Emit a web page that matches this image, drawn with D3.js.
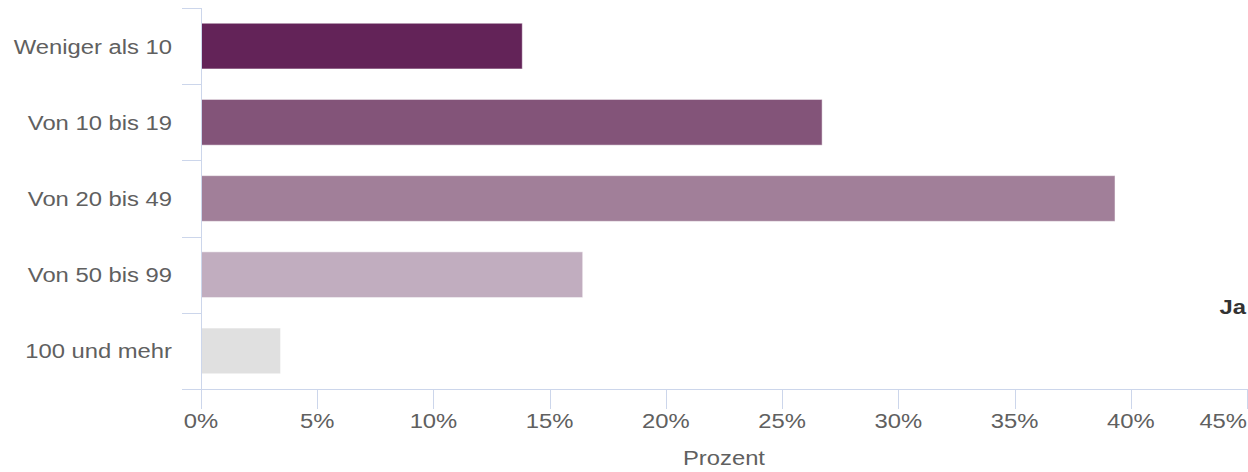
<!DOCTYPE html>
<html><head><meta charset="utf-8">
<script src="https://cdn.jsdelivr.net/npm/d3@7"></script>
<style>html,body{margin:0;padding:0;background:#fff;overflow:hidden}</style>
</head><body>
<svg id="chart" width="1248" height="472"></svg>
<script>
const categories = ["Weniger als 10", "Von 10 bis 19", "Von 20 bis 49", "Von 50 bis 99", "100 und mehr"];
const values = [13.8, 26.7, 39.3, 16.4, 3.4];
const colors = ["#632358", "#835479", "#a17f99", "#c1adbf", "#e0e0e0"];
const xTicks = [0, 5, 10, 15, 20, 25, 30, 35, 40, 45];
const xTitle = "Prozent";
const legendLabel = "Ja";

const svg = d3.select("#chart");
const FS = 20, SX = 1.19;
const font = "'Liberation Sans', Arial, sans-serif";

const x = d3.scaleLinear().domain([0, 45]).range([201, 1247]);
const y = d3.scaleBand().domain(categories).range([8, 389]).paddingInner(0.4).paddingOuter(0.2);

// bars
svg.append("g").selectAll("rect").data(categories).join("rect")
  .attr("x", x(0) + 0.5)
  .attr("y", d => y(d))
  .attr("width", (d, i) => x(values[i]) - x(0))
  .attr("height", y.bandwidth())
  .attr("fill", (d, i) => colors[i])
  .attr("stroke", "#fff").attr("stroke-opacity", 0.5).attr("stroke-width", 1);

const axisColor = "#ccd6eb";
// y axis
svg.append("line").attr("x1", 201.5).attr("x2", 201.5).attr("y1", 8).attr("y2", 389).attr("stroke", axisColor);
const bounds = d3.range(categories.length + 1).map(i => 8 + i * (381 / categories.length));
svg.append("g").selectAll("line").data(bounds).join("line")
  .attr("x1", 182).attr("x2", 201).attr("y1", d => Math.round(d) + 0.5).attr("y2", d => Math.round(d) + 0.5)
  .attr("stroke", axisColor);
svg.append("g").selectAll("text").data(categories).join("text")
  .attr("transform", d => `translate(172,${y(d) + y.bandwidth() / 2 + 7.5}) scale(${SX},1)`)
  .attr("text-anchor", "end").attr("font-family", font).attr("font-size", FS).attr("fill", "#606060")
  .text(d => d);

// x axis
svg.append("line").attr("x1", 201).attr("x2", 1248).attr("y1", 389.5).attr("y2", 389.5).attr("stroke", axisColor);
svg.append("g").selectAll("line").data(xTicks).join("line")
  .attr("x1", d => Math.round(x(d)) + 0.5).attr("x2", d => Math.round(x(d)) + 0.5)
  .attr("y1", 389).attr("y2", 409).attr("stroke", axisColor);
svg.append("g").selectAll("text").data(xTicks).join("text")
  .attr("transform", d => `translate(${x(d)},${428}) scale(${SX},1)`)
  .attr("text-anchor", d => d === 45 ? "end" : "middle")
  .attr("font-family", font).attr("font-size", FS).attr("fill", "#606060")
  .text(d => d + "%");
svg.append("text")
  .attr("transform", `translate(724,465) scale(${SX},1)`)
  .attr("text-anchor", "middle").attr("font-family", font).attr("font-size", FS).attr("fill", "#606060")
  .text(xTitle);

// legend item (cut off at the right edge in the reference; kept inside here)
svg.append("text")
  .attr("transform", `translate(1246,314) scale(${SX},1)`)
  .attr("text-anchor", "end")
  .attr("font-family", font).attr("font-size", FS).attr("font-weight", "bold").attr("fill", "#333")
  .text(legendLabel);
</script>
</body></html>
